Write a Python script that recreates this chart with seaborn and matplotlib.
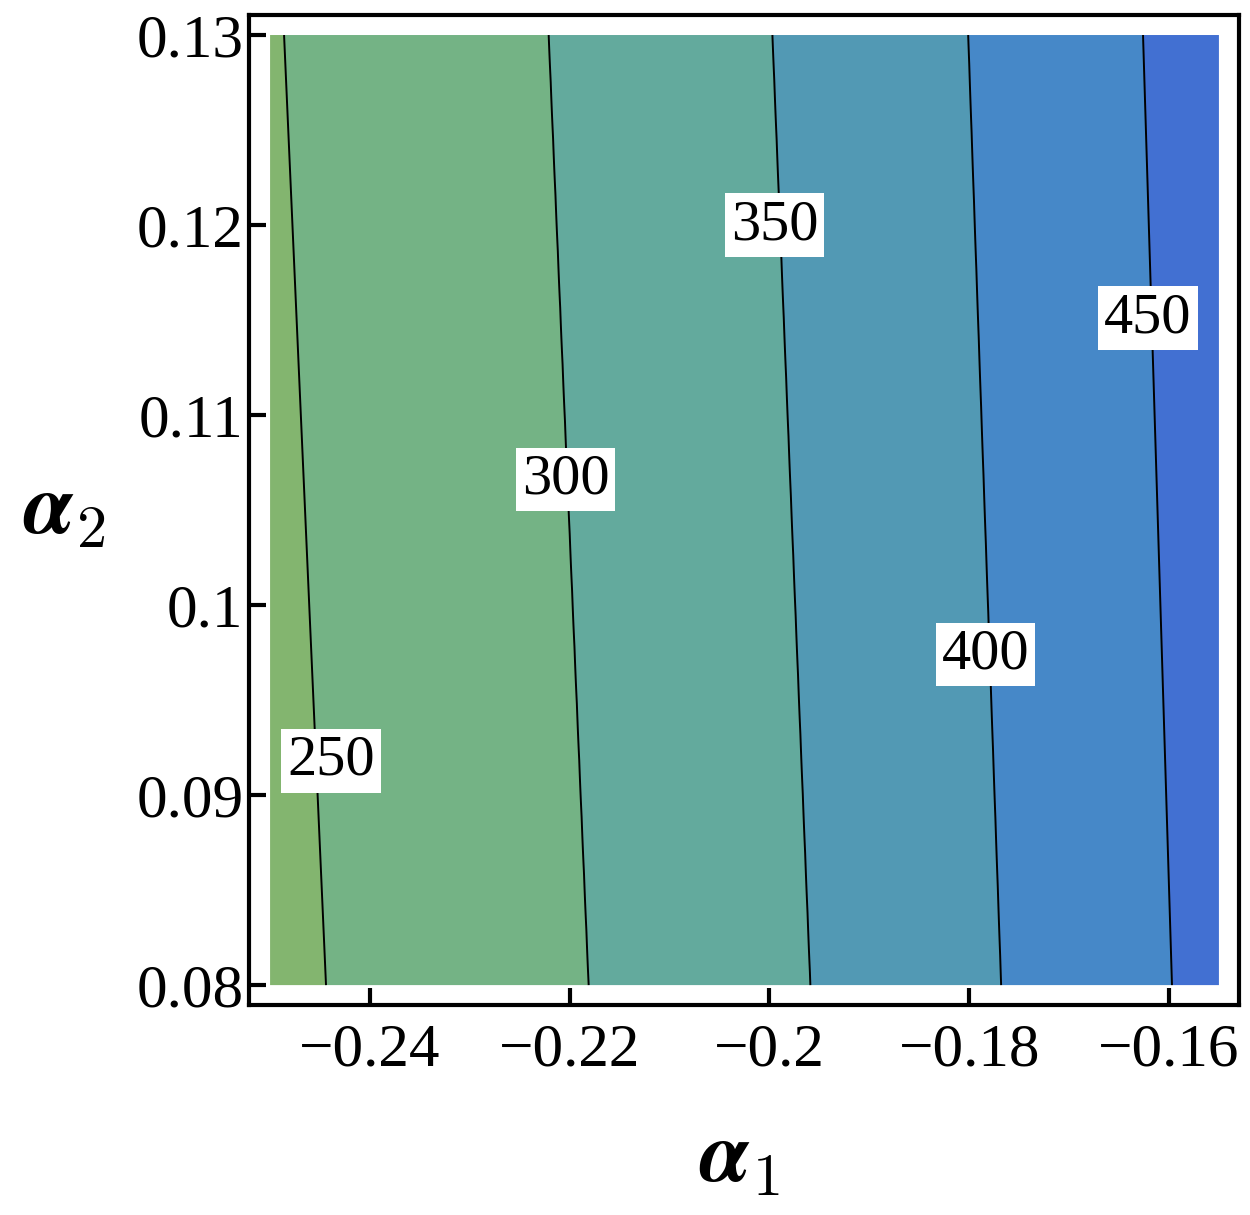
import numpy as np
import matplotlib
matplotlib.use("Agg")
import matplotlib.pyplot as plt
import seaborn as sns

# contour levels and where each contour line meets the bottom / top edge
levels = [250, 300, 350, 400, 450]
x_bottom = [-0.2444, -0.2181, -0.1959, -0.1768, -0.1597]   # alpha1 at alpha2 = 0.08
x_top = [-0.2486, -0.2221, -0.1997, -0.1801, -0.1626]      # alpha1 at alpha2 = 0.13
band_colors = ["#83b56f", "#74b385", "#63aa9d", "#5299b4", "#4688c8", "#4270d2"]
label_pos = [(-0.2439, 0.0918), (-0.2204, 0.1066), (-0.1995, 0.1200),
             (-0.1784, 0.0974), (-0.1621, 0.1151)]

a1_range = (-0.25, -0.155)
a2_range = (0.08, 0.13)
xticks = [-0.24, -0.22, -0.20, -0.18, -0.16]
xticklabels = ["\u22120.24", "\u22120.22", "\u22120.2", "\u22120.18", "\u22120.16"]
yticks = [0.08, 0.09, 0.10, 0.11, 0.12, 0.13]
yticklabels = ["0.08", "0.09", "0.1", "0.11", "0.12", "0.13"]

sns.set_theme(style="white")
plt.rcParams["font.family"] = ["Liberation Serif", "DejaVu Serif"]
plt.rcParams["mathtext.fontset"] = "cm"
plt.rcParams["text.color"] = "black"
plt.rcParams["xtick.color"] = "black"
plt.rcParams["ytick.color"] = "black"
plt.rcParams["axes.labelcolor"] = "black"


def row_values(x, xc):
    """Piecewise linear field through the contour crossings of one row."""
    v = np.interp(x, xc, levels)
    lo = x < xc[0]
    hi = x > xc[-1]
    s0 = (levels[1] - levels[0]) / (xc[1] - xc[0])
    s1 = (levels[-1] - levels[-2]) / (xc[-1] - xc[-2])
    v[lo] = levels[0] + (x[lo] - xc[0]) * s0
    v[hi] = levels[-1] + (x[hi] - xc[-1]) * s1
    return v


a1 = np.linspace(*a1_range, 400)
a2 = np.linspace(*a2_range, 200)
A1, A2 = np.meshgrid(a1, a2)
xb, xt = np.array(x_bottom), np.array(x_top)
Z = np.array([row_values(a1, xb + (xt - xb) * (y - a2_range[0]) / (a2_range[1] - a2_range[0]))
              for y in a2])

fig = plt.figure(figsize=(12.5, 12.15), dpi=100)
ax = fig.add_axes([0.1992, 0.1728, 0.7920, 0.8148])

fill_levels = [Z.min() - 1] + levels + [Z.max() + 1]
ax.contourf(A1, A2, Z, levels=fill_levels, colors=band_colors, antialiased=True)
ax.contour(A1, A2, Z, levels=levels, colors="black", linewidths=1.4)
for lev, (lx, ly) in zip(levels, label_pos):
    ax.text(lx, ly, str(lev), fontsize=42, color="black", ha="center", va="center",
            zorder=5, bbox=dict(boxstyle="square,pad=0.1", fc="white", ec="none"))

ax.set_xlim(-0.25211, -0.15299)
ax.set_ylim(0.07895, 0.13105)
ax.set_xticks(xticks, xticklabels)
ax.set_yticks(yticks, yticklabels)
ax.tick_params(direction="in", length=12, width=3, color="black", labelcolor="black",
               labelsize=44, bottom=True, left=True, top=False, right=False)
ax.tick_params(axis="x", pad=13)
ax.tick_params(axis="y", pad=4)
for sp in ax.spines.values():
    sp.set_linewidth(3)
    sp.set_color("black")

ax.set_xlabel(r"$\boldsymbol{\alpha}_1$", fontsize=62)
ax.xaxis.set_label_coords(0.496, -0.157)
ax.xaxis.label.set_va("center")
ax.set_ylabel(r"$\boldsymbol{\alpha}_2$", fontsize=62, rotation=0)
ax.yaxis.set_label_coords(-0.186, 0.497)
ax.yaxis.label.set_va("center")
ax.yaxis.label.set_ha("center")

fig.savefig("out.png", dpi=100)
plt.close(fig)
